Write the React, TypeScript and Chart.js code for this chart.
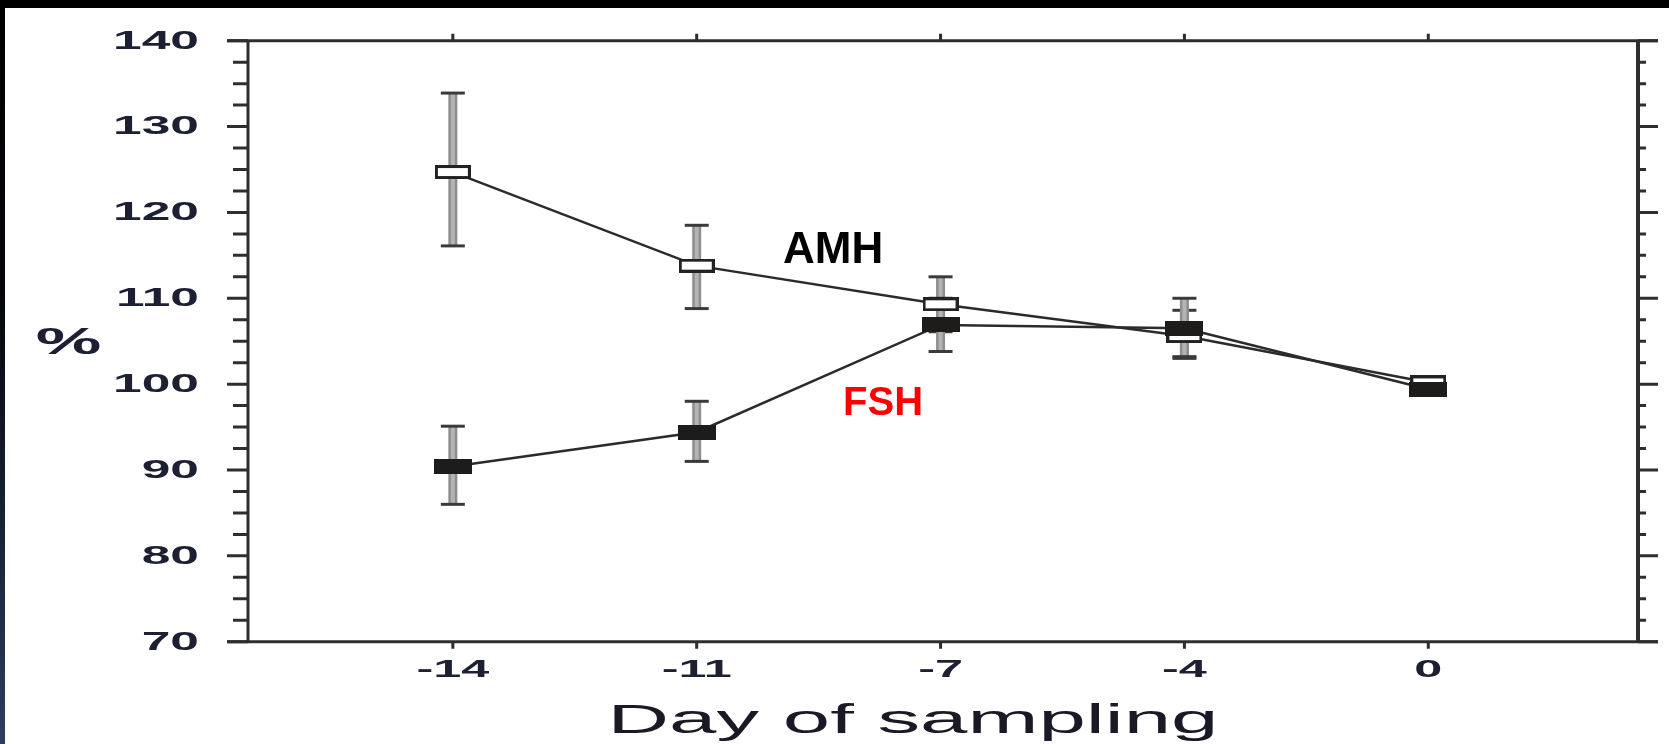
import React, { useEffect, useRef } from 'react';
import { Chart, registerables } from 'chart.js';

Chart.register(...registerables);

// ---- data ----
const days = ['-14', '-11', '-7', '-4', '0'];
const amhMean = [124.7, 113.8, 109.3, 105.6, 100.2];
const amhLow = [116.1, 108.8, 106.1, 103.0, null];
const amhHigh = [133.9, 118.5, 112.5, 108.6, null];
const fshMean = [90.4, 94.4, 106.9, 106.5, 99.4];
const fshLow = [86.0, 91.0, 103.8, 103.2, null];
const fshHigh = [95.1, 98.0, 110.0, 110.0, null];
const yMajorTicks = [70, 80, 90, 100, 110, 120, 130, 140];
const yMinorStep = 2.5;
const yMin = 70;
const yMax = 140;

const W = 1669;
const H = 744;
const STRETCH = 2.1;
const LABEL_FONT = '"Liberation Sans", Arial, sans-serif';

function stretchedText(
  ctx: CanvasRenderingContext2D,
  text: string,
  x: number,
  y: number,
  sx: number,
  font: string,
  align: CanvasTextAlign,
  baseline: CanvasTextBaseline,
  color: string
) {
  ctx.save();
  ctx.translate(x, y);
  ctx.scale(sx, 1);
  ctx.font = font;
  ctx.textAlign = align;
  ctx.textBaseline = baseline;
  ctx.fillStyle = color;
  ctx.fillText(text, 0, 0);
  ctx.restore();
}

const errorBarPlugin = {
  id: 'errorBars',
  beforeDatasetsDraw(chart: any) {
    const { ctx, scales } = chart;
    const xs = scales.x;
    const ys = scales.y;
    const series = [
      { low: amhLow, high: amhHigh },
      { low: fshLow, high: fshHigh },
    ];
    ctx.save();
    series.forEach((s) => {
      s.low.forEach((lo, i) => {
        const hi = s.high[i];
        if (lo == null || hi == null) return;
        const x = xs.getPixelForValue(i);
        const yTop = ys.getPixelForValue(hi);
        const yBot = ys.getPixelForValue(lo);
        ctx.lineCap = 'butt';
        ctx.strokeStyle = '#8e8e8e';
        ctx.lineWidth = 9;
        ctx.beginPath();
        ctx.moveTo(x, yTop);
        ctx.lineTo(x, yBot);
        ctx.stroke();
        ctx.strokeStyle = '#b4b4b4';
        ctx.lineWidth = 4;
        ctx.beginPath();
        ctx.moveTo(x, yTop);
        ctx.lineTo(x, yBot);
        ctx.stroke();
        ctx.strokeStyle = '#3a3a3a';
        ctx.lineWidth = 3;
        [yTop, yBot].forEach((yy) => {
          ctx.beginPath();
          ctx.moveTo(x - 12, yy);
          ctx.lineTo(x + 12, yy);
          ctx.stroke();
        });
      });
    });
    ctx.restore();
  },
};

const framePlugin = {
  id: 'frame',
  afterDraw(chart: any) {
    const { ctx, chartArea, scales } = chart;
    const xs = scales.x;
    const ys = scales.y;
    const { left, right, top, bottom } = chartArea;
    const axisColor = '#2e2e2e';
    ctx.save();
    ctx.strokeStyle = axisColor;
    ctx.lineCap = 'butt';
    ctx.lineWidth = 3;
    // frame
    ctx.beginPath();
    ctx.moveTo(left - 21, top);
    ctx.lineTo(right + 20, top);
    ctx.moveTo(left - 21, bottom);
    ctx.lineTo(right + 20, bottom);
    ctx.moveTo(left, top);
    ctx.lineTo(left, bottom);
    ctx.stroke();
    ctx.lineWidth = 4;
    ctx.beginPath();
    ctx.moveTo(right, top);
    ctx.lineTo(right, bottom);
    ctx.stroke();
    // y ticks
    ctx.lineWidth = 3;
    for (let v = yMin; v <= yMax + 1e-9; v += yMinorStep) {
      const y = ys.getPixelForValue(v);
      const major = yMajorTicks.includes(v);
      ctx.beginPath();
      ctx.moveTo(left - (major ? 21 : 15), y);
      ctx.lineTo(left, y);
      ctx.moveTo(right, y);
      ctx.lineTo(right + (major ? 20 : 8), y);
      ctx.stroke();
    }
    // x ticks
    days.forEach((_, i) => {
      const x = xs.getPixelForValue(i);
      ctx.beginPath();
      ctx.moveTo(x, top - 7);
      ctx.lineTo(x, top);
      ctx.moveTo(x, bottom);
      ctx.lineTo(x, bottom + 7);
      ctx.stroke();
    });
    // y tick labels
    const labelColor = '#1d1f33';
    yMajorTicks.forEach((v) => {
      const y = ys.getPixelForValue(v);
      stretchedText(ctx, String(v), left - 49, y + 1, STRETCH - 0.04, `bold 25px ${LABEL_FONT}`, 'right', 'middle', labelColor);
    });
    // x tick labels
    days.forEach((d, i) => {
      const x = xs.getPixelForValue(i);
      stretchedText(ctx, d, x, bottom + 35, STRETCH, `bold 24px ${LABEL_FONT}`, 'center', 'alphabetic', labelColor);
    });
    // y axis title
    stretchedText(ctx, '%', 68.5, (top + bottom) / 2 + 13, 2.05, `bold 36px ${LABEL_FONT}`, 'center', 'alphabetic', labelColor);
    // x axis title
    stretchedText(ctx, 'Day of sampling', (left + right) / 2 - 30, bottom + 91, 2.13, `40px ${LABEL_FONT}`, 'center', 'alphabetic', '#1a1a26');
    // series annotations
    ctx.font = `bold 44px ${LABEL_FONT}`;
    ctx.textAlign = 'left';
    ctx.textBaseline = 'alphabetic';
    ctx.fillStyle = '#000000';
    ctx.fillText('AMH', xs.getPixelForValue(1.354), ys.getPixelForValue(114.1));
    ctx.font = `bold 40px ${LABEL_FONT}`;
    ctx.fillStyle = '#ff0000';
    ctx.fillText('FSH', xs.getPixelForValue(1.6), ys.getPixelForValue(96.4));
    ctx.restore();
  },
};

function makeMarker(w: number, h: number, filled: boolean): HTMLCanvasElement {
  const c = document.createElement('canvas');
  c.width = w;
  c.height = h;
  const g = c.getContext('2d')!;
  if (filled) {
    g.fillStyle = '#1e1b1b';
    g.fillRect(0, 0, w, h);
  } else {
    g.fillStyle = '#ffffff';
    g.fillRect(0, 0, w, h);
    g.strokeStyle = '#222222';
    g.lineWidth = 3;
    g.strokeRect(1.5, 1.5, w - 3, h - 3);
  }
  return c;
}

export default function App() {
  const ref = useRef<HTMLCanvasElement | null>(null);

  useEffect(() => {
    if (!ref.current) return;
    const amhMarker = makeMarker(36, 14, false);
    const fshMarker = makeMarker(38, 15, true);
    const chart = new Chart(ref.current, {
      type: 'line',
      data: {
        datasets: [
          {
            label: 'FSH',
            data: fshMean.map((v, i) => ({ x: i, y: v })),
            borderColor: '#2b2b2b',
            borderWidth: 2.5,
            pointStyle: fshMarker as any,
            pointRadius: 10,
            tension: 0,
            fill: false,
          },
          {
            label: 'AMH',
            data: amhMean.map((v, i) => ({ x: i, y: v })),
            borderColor: '#2b2b2b',
            borderWidth: 2.5,
            pointStyle: amhMarker as any,
            pointRadius: 10,
            tension: 0,
            fill: false,
          },
        ],
      },
      options: {
        animation: false,
        responsive: false,
        maintainAspectRatio: false,
        devicePixelRatio: 1,
        layout: { padding: { left: 248, right: 31, top: 40.7, bottom: 102.3 } },
        plugins: { legend: { display: false }, tooltip: { enabled: false } },
        events: [],
        scales: {
          x: { type: 'linear', min: -0.84, max: 4.86, display: false },
          y: { type: 'linear', min: yMin, max: yMax, display: false },
        },
      },
      plugins: [errorBarPlugin, framePlugin],
    });
    return () => chart.destroy();
  }, []);

  return (
    <div style={{ position: 'fixed', left: 0, top: 0, width: W, height: H, background: '#ffffff', overflow: 'hidden' }}>
      <canvas ref={ref} width={W} height={H} style={{ position: 'absolute', left: 0, top: 0, width: W, height: H }} />
      <div style={{ position: 'absolute', left: 0, top: 0, width: W, height: 8, background: '#000000' }} />
      <div
        style={{
          position: 'absolute',
          left: 0,
          top: 8,
          width: 5,
          height: H - 8,
          background: 'linear-gradient(to bottom, #000000 0%, #05070c 40%, #2c3d5e 100%)',
        }}
      />
    </div>
  );
}
